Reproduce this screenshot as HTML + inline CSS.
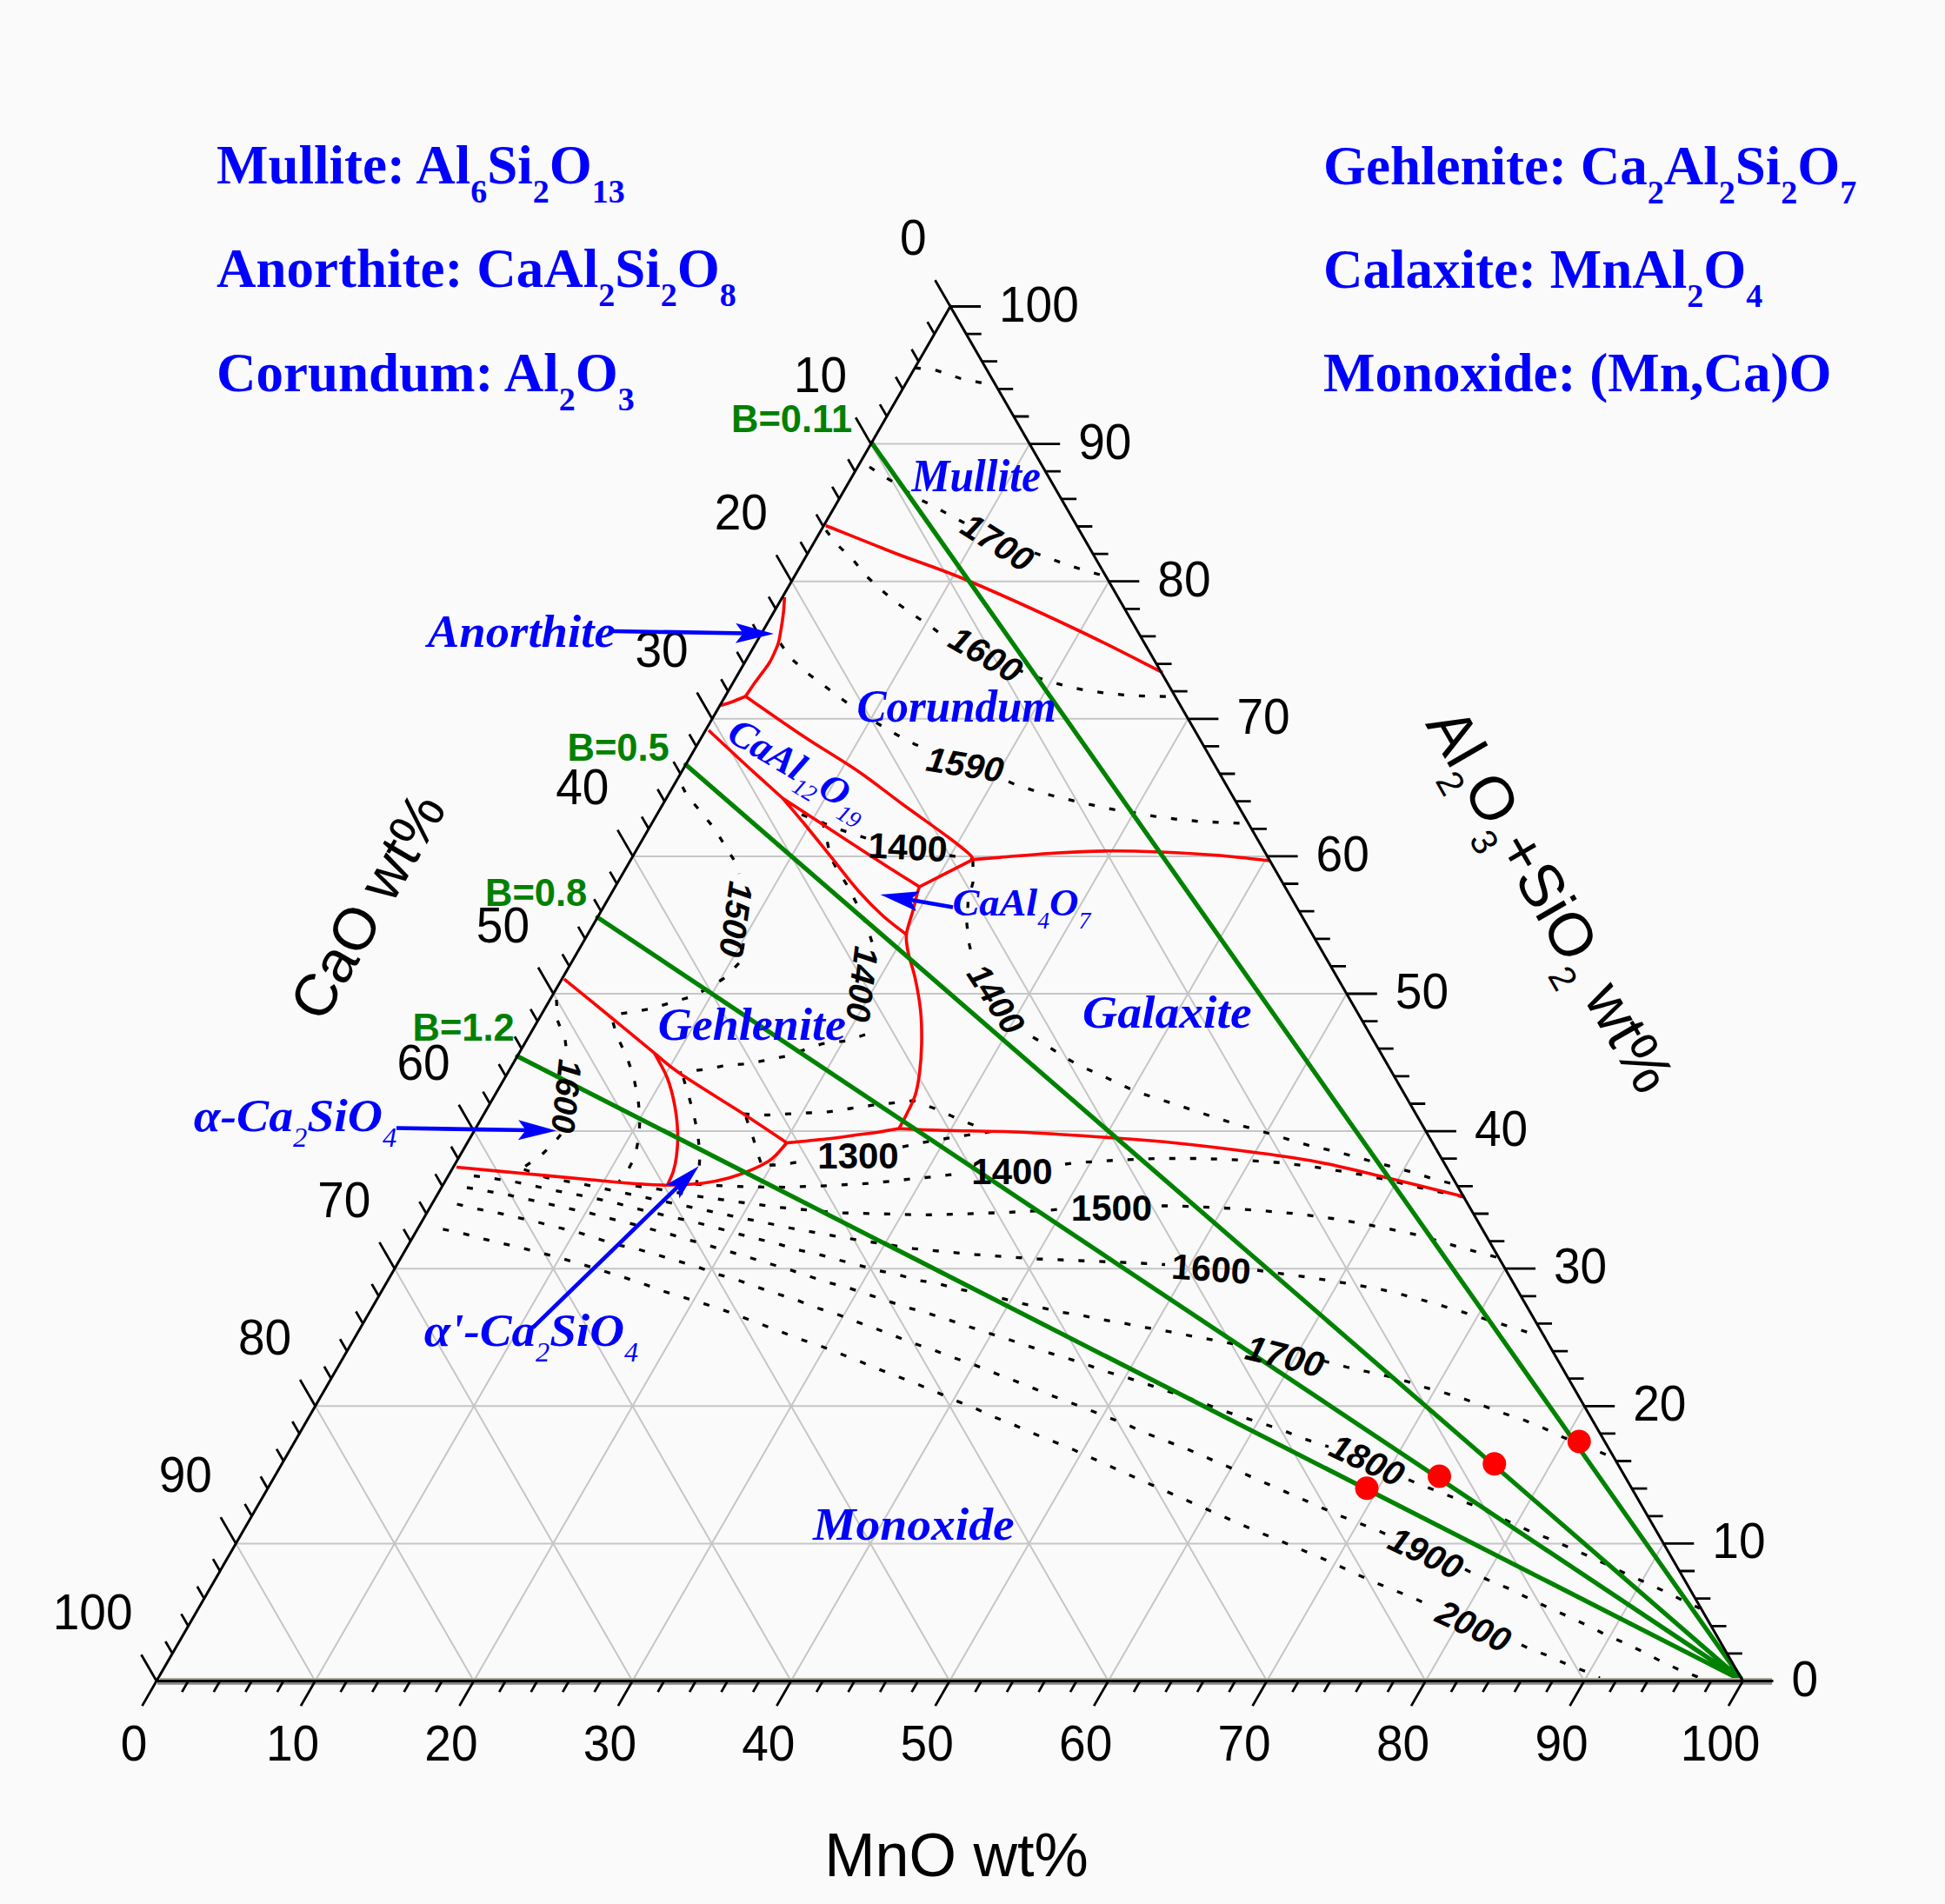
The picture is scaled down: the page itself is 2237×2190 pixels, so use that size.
<!DOCTYPE html>
<html><head><meta charset="utf-8"><title>CaO-MnO-Al2O3+SiO2 phase diagram</title>
<style>html,body{margin:0;padding:0;background:#fafafa;}svg{display:block}</style></head>
<body><svg width="2237" height="2190" viewBox="0 0 2237 2190">
<rect width="2237" height="2190" fill="#fafafa"/>
<path d="M271.3 1775.4H1913.3M362.5 1933.5L1184.2 510.6M1822 1933.5L1001.7 510.6M362.6 1617.3H1822.2M544.9 1933.5L1275.3 668.7M1639.6 1933.5L910.4 668.7M453.9 1459.2H1731M727.4 1933.5L1366.4 826.8M1457.1 1933.5L819.1 826.8M545.2 1301.1H1639.9M909.8 1933.5L1457.6 984.9M1274.7 1933.5L727.8 984.9M636.5 1143H1548.8M1092.2 1933.5L1548.8 1143M1092.2 1933.5L636.5 1143M727.8 984.9H1457.6M1274.7 1933.5L1639.9 1301.1M909.8 1933.5L545.2 1301.1M819.1 826.8H1366.5M1457.1 1933.5L1731 1459.2M727.4 1933.5L453.9 1459.2M910.4 668.7H1275.3M1639.6 1933.5L1822.2 1617.3M544.9 1933.5L362.6 1617.3M1001.7 510.6H1184.2M1822 1933.5L1913.3 1775.4M362.4 1933.5L271.3 1775.4" stroke="#c6c6c6" stroke-width="2" fill="none"/>
<path d="M1052.0 423.0 L1077.5 426.2 L1103.8 435.0 L1127.5 440.0 L1144.0 442.0M1000.0 537.0 L1010.9 544.5 L1031.9 557.1 L1050.8 570.8 L1074.0 582.4 L1095.0 593.9 L1112.0 603.0M1190.0 636.0 L1204.2 641.2 L1227.3 649.6 L1250.4 656.9 L1265.0 661.0M950.0 610.0 L962.5 626.2 L980.0 642.5 L995.0 661.2 L1012.5 677.5 L1030.0 692.5 L1051.2 707.5 L1071.2 721.2 L1090.0 735.0M1170.0 770.0 L1178.8 773.8 L1202.5 782.5 L1225.0 788.8 L1247.5 793.8 L1272.5 797.5 L1295.0 799.5 L1320.0 800.8 L1345.0 801.2M897.5 740.0 L910.0 757.5 L931.2 776.2 L951.2 791.2 L971.2 806.2 L990.0 819.0 L1010.0 832.5 L1031.2 845.0 L1052.5 856.2 L1062.0 860.0M1160.0 899.0 L1165.0 901.2 L1187.5 908.8 L1210.0 915.0 L1235.0 921.2 L1257.5 926.2 L1281.2 931.2 L1305.0 935.0 L1327.5 938.8 L1351.2 942.0 L1376.2 944.5 L1400.0 945.8 L1430.0 947.0M922.0 937.0 L942.5 945.0 L965.0 953.8 L987.5 961.2 L996.0 964.0M1092.0 984.0 L1105.0 986.2 L1119.0 988.6M785.0 905.0 L790.0 915.0 L806.2 933.8 L821.2 952.5 L833.8 972.5 L846.2 992.5 L850.0 1005.0M855.0 1085.0 L852.5 1105.0 L835.0 1123.8 L817.5 1135.0 L796.2 1146.2 L773.8 1152.5 L750.0 1160.0 L727.5 1163.8 L702.0 1168.0M946.0 945.0 L950.4 962.6 L955.0 986.0 L961.4 997.3 L974.0 1017.7 L985.9 1040.6 L996.0 1062.0 L1003.0 1084.0 L1005.0 1094.0M995.0 1190.0 L975.0 1197.0 L945.7 1200.5 L903.0 1215.0 L878.8 1220.0 L855.0 1223.8 L831.2 1226.2 L810.0 1230.0 L782.5 1233.8M1119.0 990.0 L1119.0 1015.0 L1113.5 1036.0 L1112.0 1063.0 L1115.0 1087.0 L1118.0 1100.0M1188.0 1193.0 L1200.0 1200.0 L1219.0 1212.5 L1240.0 1225.0 L1262.5 1235.0 L1284.0 1245.0 L1305.0 1255.0 L1327.5 1262.5 L1351.2 1270.0 L1373.8 1277.5 L1396.2 1285.0 L1420.0 1292.5 L1442.5 1298.8 L1464.0 1305.0 L1487.8 1312.5 L1510.2 1318.8 L1534.0 1323.8 L1556.5 1330.0 L1579.0 1336.2 L1602.8 1342.5 L1626.5 1348.8 L1649.0 1356.2 L1674.0 1362.5 L1682.0 1365.0M640.0 1150.0 L641.2 1173.8 L650.0 1196.2 L652.0 1212.0M645.0 1305.0 L638.8 1312.5 L622.5 1328.8 L602.5 1342.5M705.0 1176.0 L710.0 1192.5 L721.2 1216.2 L728.8 1238.8 L733.8 1263.8 L736.0 1285.0 L735.0 1307.5 L730.0 1331.2 L720.0 1350.0 L712.0 1359.0M786.0 1240.0 L791.2 1257.5 L797.5 1280.0 L802.5 1303.8 L805.0 1327.5 L803.8 1350.0 L801.0 1361.0M858.0 1285.0 L866.2 1308.8 L872.5 1330.0 L876.0 1340.0M855.0 1281.2 L882.5 1282.5 L907.5 1281.2 L930.0 1280.0 L952.5 1278.8 L978.0 1275.0 L1003.8 1271.2 L1025.0 1268.8 L1050.0 1266.0 L1075.0 1275.0 L1097.5 1285.0 L1118.8 1293.8 L1135.0 1302.0M885.0 1340.0 L896.8 1340.0 L920.5 1336.2 L932.0 1334.0M1038.0 1319.0 L1039.2 1318.8 L1063.0 1313.8 L1085.5 1310.0 L1109.2 1306.2 L1133.0 1302.5 L1140.0 1301.5M800.0 1362.0 L808.0 1362.8 L855.6 1365.0 L903.0 1365.6 L950.5 1363.8 L974.2 1362.5 L998.0 1361.2 L1023.0 1358.8 L1046.8 1356.2 L1070.5 1353.8 L1093.0 1351.2 L1105.0 1350.0M1225.0 1339.0 L1236.5 1337.5 L1284.0 1334.5 L1331.5 1332.5 L1379.0 1332.5 L1427.8 1334.2 L1475.2 1337.5 L1522.8 1343.8 L1570.2 1351.8 L1600.0 1358.0 L1639.0 1367.5 L1684.0 1377.0M731.0 1364.0 L755.0 1367.5 L800.0 1375.6 L848.8 1382.5 L896.8 1388.8 L965.5 1395.0 L1015.5 1396.2 L1063.0 1397.5 L1110.5 1396.2 L1158.0 1394.5 L1206.8 1392.0 L1218.0 1391.0M1336.0 1387.0 L1350.0 1387.0 L1397.8 1388.8 L1445.0 1392.0 L1492.8 1396.2 L1540.0 1402.5 L1586.5 1411.2 L1634.0 1421.2 L1680.0 1435.0 L1721.0 1446.0M602.5 1345.0 L628.0 1354.4 L675.6 1363.1 L698.8 1368.1 L745.6 1378.1 L793.1 1388.1 L839.4 1398.1 L885.6 1407.5 L909.2 1412.5 L979.2 1425.0 L1050.5 1436.2 L1121.8 1443.0 L1193.0 1448.0 L1241.5 1450.0 L1312.8 1453.0 L1340.0 1454.5M1446.0 1461.0 L1455.0 1462.5 L1502.8 1468.8 L1550.0 1476.2 L1597.8 1485.0 L1644.0 1497.5 L1689.0 1511.2 L1772.0 1537.0M545.0 1352.5 L568.0 1355.6 L592.0 1359.4 L615.6 1364.4 L638.0 1369.4 L662.0 1373.8 L686.0 1378.8 L708.8 1383.8 L731.2 1390.0 L755.0 1395.6 L778.8 1401.2 L801.2 1406.2 L825.0 1412.5 L847.5 1418.8 L871.2 1425.0 L894.4 1430.6 L916.8 1437.5 L940.5 1442.5 L963.0 1448.8 L986.8 1455.0 L1009.2 1461.2 L1033.0 1466.2 L1055.5 1472.5 L1078.0 1476.2 L1101.8 1482.5 L1125.5 1487.5 L1149.2 1492.5 L1173.0 1498.8 L1196.8 1503.8 L1217.8 1508.8 L1241.5 1512.5 L1265.2 1517.5 L1289.0 1521.2 L1312.8 1526.2 L1336.5 1530.0 L1361.5 1535.0 L1385.2 1539.5 L1409.0 1543.8 L1425.0 1547.0M1522.0 1565.0 L1525.2 1566.2 L1549.0 1572.5 L1571.5 1577.5 L1594.0 1582.5 L1617.8 1588.8 L1640.2 1596.2 L1662.8 1602.5 L1686.5 1610.0 L1707.5 1617.5 L1731.2 1626.2 L1753.8 1633.8 L1775.0 1642.5 L1796.2 1652.5 L1852.0 1675.0M537.0 1366.0 L560.0 1370.0 L584.0 1374.4 L607.0 1379.4 L629.0 1384.4 L654.0 1390.0 L677.5 1395.0 L700.0 1401.2 L723.8 1406.9 L746.2 1413.1 L770.0 1419.4 L792.5 1426.2 L815.0 1432.5 L838.1 1439.4 L861.2 1446.2 L883.8 1453.1 L906.8 1460.0 L929.2 1467.5 L951.8 1475.0 L975.5 1481.2 L998.0 1488.8 L1020.5 1496.2 L1043.0 1503.8 L1065.5 1510.0 L1089.2 1517.5 L1111.8 1525.0 L1134.2 1532.5 L1158.0 1540.0 L1180.5 1547.5 L1203.0 1555.0 L1224.0 1561.2 L1247.8 1568.8 L1271.5 1577.5 L1294.0 1583.8 L1316.5 1591.2 L1339.0 1598.8 L1361.5 1606.2 L1384.0 1614.0 L1406.5 1622.5 L1429.0 1630.0 L1452.8 1637.5 L1475.2 1645.0 L1496.5 1653.8 L1519.0 1661.2 L1528.0 1664.0M1620.0 1702.0 L1630.0 1706.2 L1652.5 1715.0 L1675.0 1723.8 L1697.5 1732.5 L1719.0 1742.5 L1740.0 1752.5 L1762.5 1762.5 L1785.0 1771.2 L1807.5 1781.2 L1830.0 1791.2 L1851.0 1801.0 L1872.5 1811.2 L1895.0 1821.2 L1916.2 1831.2 L1936.2 1841.2 L1955.0 1850.0M525.6 1385.0 L549.4 1390.6 L572.0 1395.0 L596.0 1400.6 L619.4 1406.0 L642.5 1412.0 L665.0 1417.5 L688.0 1425.0 L711.0 1432.0 L733.8 1436.9 L757.5 1443.8 L780.0 1450.6 L803.1 1457.5 L825.0 1465.6 L847.5 1471.9 L871.2 1480.6 L893.8 1488.1 L915.5 1495.0 L938.0 1503.8 L961.8 1511.2 L984.2 1520.0 L1005.5 1527.5 L1028.0 1536.2 L1050.5 1545.0 L1073.0 1552.5 L1095.5 1561.2 L1118.0 1568.8 L1139.2 1577.5 L1161.8 1586.2 L1184.2 1595.0 L1205.5 1603.8 L1229.0 1612.5 L1251.5 1621.2 L1274.0 1630.0 L1296.5 1638.8 L1319.0 1648.8 L1341.5 1657.5 L1364.0 1666.2 L1440.0 1699.0 L1516.2 1732.5 L1538.8 1742.5 L1561.2 1751.2 L1583.8 1760.0 L1595.0 1765.0M1685.0 1805.0 L1692.5 1808.8 L1715.0 1818.8 L1736.2 1827.5 L1758.8 1838.8 L1780.0 1848.8 L1802.5 1858.8 L1823.8 1868.8 L1846.2 1880.0 L1866.2 1888.8 L1887.5 1898.8 L1908.8 1910.0 L1930.0 1920.0 L1958.0 1931.0M509.4 1413.8 L533.0 1418.8 L555.6 1425.0 L579.4 1430.6 L602.0 1436.0 L625.6 1442.0 L648.0 1448.0 L672.0 1455.0 L694.4 1462.0 L716.2 1468.8 L738.8 1476.2 L762.5 1485.0 L785.0 1491.9 L807.5 1498.8 L830.0 1506.2 L852.5 1514.4 L875.0 1523.1 L896.9 1531.2 L919.2 1540.0 L941.8 1547.5 L964.2 1556.2 L986.8 1565.0 L1008.0 1573.8 L1030.5 1582.5 L1053.0 1591.2 L1074.2 1600.0 L1096.8 1610.0 L1119.2 1618.8 L1140.5 1628.8 L1163.0 1637.5 L1185.5 1647.5 L1206.8 1656.2 L1229.0 1665.0 L1300.0 1697.0 L1370.0 1728.0 L1440.0 1759.0 L1515.0 1790.0 L1537.5 1800.0 L1558.8 1810.0 L1581.2 1820.0 L1602.5 1828.8 L1625.0 1837.5 L1646.2 1847.5 L1650.0 1849.0M1750.0 1892.0 L1756.2 1895.0 L1778.8 1903.8 L1801.2 1913.8 L1823.8 1922.5 L1840.0 1930.0" stroke="#000" stroke-width="3.3" fill="none" stroke-dasharray="7 17" />
<path d="M949.7 604.5C963.1 609.8 1002.9 626.0 1030.0 636.5C1057.1 647.0 1077.5 652.8 1112.5 667.5C1147.5 682.2 1202.6 707.3 1240.0 725.0C1277.4 742.7 1320.8 765.4 1337.0 773.5M902.3 687.0C902.1 690.0 901.8 698.4 901.0 705.2C900.2 712.0 898.6 722.2 897.6 727.9C896.6 733.6 896.4 735.4 895.3 739.2C894.2 743.0 892.5 746.7 890.8 750.5C889.1 754.3 887.5 758.0 885.2 761.8C882.9 765.6 880.2 769.0 877.2 773.1C874.2 777.2 870.4 782.1 867.1 786.7C863.8 791.4 859.1 798.6 857.5 801.0M857.5 801.0C854.6 802.2 844.8 806.2 840.0 808.0C835.2 809.8 830.8 810.9 829.0 811.5M857.5 801.0C868.8 808.8 903.3 833.1 925.0 847.5C946.7 861.9 968.7 874.6 987.5 887.5C1006.3 900.4 1020.9 912.5 1038.0 925.0C1055.1 937.5 1077.2 952.9 1090.0 962.5C1102.8 972.1 1110.2 978.1 1115.0 982.5C1119.8 986.9 1118.3 987.6 1119.0 988.6M1119.0 988.6C1124.2 988.2 1134.4 987.5 1150.0 986.2C1165.6 985.0 1191.7 982.5 1212.5 981.2C1233.3 980.0 1254.6 979.0 1275.0 978.8C1295.4 978.5 1314.2 979.2 1335.0 980.0C1355.8 980.8 1379.2 982.1 1400.0 983.8C1420.8 985.4 1450.0 989.0 1460.0 990.0M1119.0 988.6 L1057.5 1020.0M815.0 840.0C822.2 846.7 843.8 867.0 858.0 880.0C872.2 893.0 893.0 911.7 900.0 918.0M900.0 918.0C906.2 922.1 919.8 930.9 937.5 942.5C955.2 954.1 986.2 974.6 1006.2 987.5C1026.2 1000.4 1049.0 1014.6 1057.5 1020.0M900.0 918.0C904.2 922.9 915.6 936.1 925.0 947.5C934.4 958.9 945.8 973.3 956.2 986.2C966.7 999.2 977.7 1013.9 987.5 1025.0C997.3 1036.1 1005.8 1044.7 1015.0 1053.0C1024.2 1061.3 1037.9 1071.3 1042.5 1075.0M1057.5 1020.0C1057.1 1021.2 1056.2 1022.9 1055.0 1027.5C1053.8 1032.1 1052.1 1039.6 1050.0 1047.5C1047.9 1055.4 1043.3 1066.7 1042.5 1075.0C1041.7 1083.3 1043.3 1089.2 1045.0 1097.5C1046.7 1105.8 1050.2 1114.2 1052.5 1125.0C1054.8 1135.8 1057.5 1150.0 1058.8 1162.5C1060.0 1175.0 1060.2 1187.9 1060.0 1200.0C1059.8 1212.1 1058.8 1225.0 1057.5 1235.0C1056.2 1245.0 1055.1 1252.0 1052.5 1260.0C1049.9 1268.0 1045.1 1276.7 1042.0 1283.0C1038.9 1289.3 1035.3 1295.5 1034.0 1298.0M1034.0 1298.0C1041.7 1298.3 1055.7 1299.2 1080.0 1300.0C1104.3 1300.8 1146.7 1301.0 1180.0 1302.5C1213.3 1304.0 1250.8 1306.7 1280.0 1308.8C1309.2 1310.8 1328.5 1312.3 1355.0 1315.0C1381.5 1317.7 1412.5 1321.5 1439.0 1325.0C1465.5 1328.5 1487.8 1331.2 1514.0 1336.2C1540.2 1341.2 1568.2 1348.3 1596.5 1355.0C1624.8 1361.7 1669.4 1372.9 1684.0 1376.5M1034.0 1298.0C1029.2 1298.8 1012.7 1301.8 1005.0 1303.0C997.3 1304.2 997.1 1303.8 988.0 1305.0C978.9 1306.2 964.3 1308.4 950.5 1310.0C936.7 1311.6 912.6 1313.8 905.0 1314.5M648.8 1126.2C657.7 1133.5 685.2 1155.8 702.5 1170.0C719.8 1184.2 739.2 1200.4 752.5 1211.2C765.8 1222.1 765.4 1223.3 782.5 1235.0C799.6 1246.7 834.6 1268.0 855.0 1281.2C875.4 1294.5 896.7 1309.0 905.0 1314.5M905.0 1314.5C902.8 1316.9 895.7 1325.4 892.0 1329.0C888.3 1332.6 887.8 1333.4 883.0 1336.2C878.2 1339.1 870.5 1343.1 863.0 1346.2C855.5 1349.4 847.2 1352.5 838.0 1355.0C828.8 1357.5 819.8 1359.6 808.0 1361.0C796.2 1362.4 774.2 1362.9 767.5 1363.3M525.0 1342.5C538.3 1343.8 579.2 1347.6 605.0 1350.0C630.8 1352.4 659.2 1355.1 680.0 1357.0C700.8 1358.9 715.4 1360.5 730.0 1361.5C744.6 1362.5 761.2 1363.0 767.5 1363.3M752.5 1211.2C755.0 1216.0 763.5 1229.8 767.5 1240.0C771.5 1250.2 774.2 1261.7 776.2 1272.5C778.2 1283.3 779.2 1295.4 779.5 1305.0C779.8 1314.6 778.8 1323.0 778.0 1330.0C777.2 1337.0 776.2 1341.5 774.5 1347.0C772.8 1352.5 768.7 1360.6 767.5 1363.3" stroke="#ff0000" stroke-width="3.6" fill="none" stroke-linejoin="round"/>
<path d="M1002.5 509.2L2004.5 1933.5M788.7 879.5L2004.5 1933.5M687.2 1055.2L2004.5 1933.5M595 1214.9L2004.5 1933.5" stroke="#008200" stroke-width="5.2" fill="none" stroke-linecap="round"/>
<path d="M184 1931H2038" stroke="#aaa79d" stroke-width="2"/><path d="M181 1936.4H2038" stroke="#868686" stroke-width="2.8"/>
<path d="M1093 352.5L180 1933.5L2004.5 1933.5Z" stroke="#000" stroke-width="3" fill="none" stroke-linejoin="miter"/>
<path d="M1093 352.5l-17.5 -30.3M1093 352.5h35M180 1933.5l-16.5 28.6M1074.7 384.1l-8 -13.9M1111.2 384.1h17.5M216.5 1933.5l-7.2 12.6M1056.5 415.7l-8 -13.9M1129.5 415.7h17.5M253 1933.5l-7.2 12.6M1038.2 447.4l-8 -13.9M1147.7 447.4h17.5M289.5 1933.5l-7.2 12.6M1020 479l-8 -13.9M1165.9 479h17.5M326 1933.5l-7.2 12.6M1001.7 510.6l-17.5 -30.3M1184.2 510.6h35M362.5 1933.5l-16.5 28.6M983.4 542.2l-8 -13.9M1202.4 542.2h17.5M398.9 1933.5l-7.2 12.6M965.2 573.8l-8 -13.9M1220.6 573.8h17.5M435.4 1933.5l-7.2 12.6M946.9 605.5l-8 -13.9M1238.8 605.5h17.5M471.9 1933.5l-7.2 12.6M928.7 637.1l-8 -13.9M1257.1 637.1h17.5M508.4 1933.5l-7.2 12.6M910.4 668.7l-17.5 -30.3M1275.3 668.7h35M544.9 1933.5l-16.5 28.6M892.1 700.3l-8 -13.9M1293.5 700.3h17.5M581.4 1933.5l-7.2 12.6M873.9 731.9l-8 -13.9M1311.8 731.9h17.5M617.9 1933.5l-7.2 12.6M855.6 763.6l-8 -13.9M1330 763.6h17.5M654.4 1933.5l-7.2 12.6M837.4 795.2l-8 -13.9M1348.2 795.2h17.5M690.9 1933.5l-7.2 12.6M819.1 826.8l-17.5 -30.3M1366.4 826.8h35M727.4 1933.5l-16.5 28.6M800.8 858.4l-8 -13.9M1384.7 858.4h17.5M763.8 1933.5l-7.2 12.6M782.6 890l-8 -13.9M1402.9 890h17.5M800.3 1933.5l-7.2 12.6M764.3 921.7l-8 -13.9M1421.1 921.7h17.5M836.8 1933.5l-7.2 12.6M746.1 953.3l-8 -13.9M1439.4 953.3h17.5M873.3 1933.5l-7.2 12.6M727.8 984.9l-17.5 -30.3M1457.6 984.9h35M909.8 1933.5l-16.5 28.6M709.5 1016.5l-8 -13.9M1475.8 1016.5h17.5M946.3 1933.5l-7.2 12.6M691.3 1048.1l-8 -13.9M1494.1 1048.1h17.5M982.8 1933.5l-7.2 12.6M673 1079.8l-8 -13.9M1512.3 1079.8h17.5M1019.3 1933.5l-7.2 12.6M654.8 1111.4l-8 -13.9M1530.5 1111.4h17.5M1055.8 1933.5l-7.2 12.6M636.5 1143l-17.5 -30.3M1548.8 1143h35M1092.2 1933.5l-16.5 28.6M618.2 1174.6l-8 -13.9M1567 1174.6h17.5M1128.7 1933.5l-7.2 12.6M600 1206.2l-8 -13.9M1585.2 1206.2h17.5M1165.2 1933.5l-7.2 12.6M581.7 1237.9l-8 -13.9M1603.4 1237.9h17.5M1201.7 1933.5l-7.2 12.6M563.5 1269.5l-8 -13.9M1621.7 1269.5h17.5M1238.2 1933.5l-7.2 12.6M545.2 1301.1l-17.5 -30.3M1639.9 1301.1h35M1274.7 1933.5l-16.5 28.6M526.9 1332.7l-8 -13.9M1658.1 1332.7h17.5M1311.2 1933.5l-7.2 12.6M508.7 1364.3l-8 -13.9M1676.4 1364.3h17.5M1347.7 1933.5l-7.2 12.6M490.4 1396l-8 -13.9M1694.6 1396h17.5M1384.2 1933.5l-7.2 12.6M472.2 1427.6l-8 -13.9M1712.8 1427.6h17.5M1420.7 1933.5l-7.2 12.6M453.9 1459.2l-17.5 -30.3M1731 1459.2h35M1457.1 1933.5l-16.5 28.6M435.6 1490.8l-8 -13.9M1749.3 1490.8h17.5M1493.6 1933.5l-7.2 12.6M417.4 1522.4l-8 -13.9M1767.5 1522.4h17.5M1530.1 1933.5l-7.2 12.6M399.1 1554.1l-8 -13.9M1785.7 1554.1h17.5M1566.6 1933.5l-7.2 12.6M380.9 1585.7l-8 -13.9M1804 1585.7h17.5M1603.1 1933.5l-7.2 12.6M362.6 1617.3l-17.5 -30.3M1822.2 1617.3h35M1639.6 1933.5l-16.5 28.6M344.3 1648.9l-8 -13.9M1840.4 1648.9h17.5M1676.1 1933.5l-7.2 12.6M326.1 1680.5l-8 -13.9M1858.7 1680.5h17.5M1712.6 1933.5l-7.2 12.6M307.8 1712.2l-8 -13.9M1876.9 1712.2h17.5M1749.1 1933.5l-7.2 12.6M289.6 1743.8l-8 -13.9M1895.1 1743.8h17.5M1785.6 1933.5l-7.2 12.6M271.3 1775.4l-17.5 -30.3M1913.3 1775.4h35M1822 1933.5l-16.5 28.6M253 1807l-8 -13.9M1931.6 1807h17.5M1858.5 1933.5l-7.2 12.6M234.8 1838.6l-8 -13.9M1949.8 1838.6h17.5M1895 1933.5l-7.2 12.6M216.5 1870.3l-8 -13.9M1968 1870.3h17.5M1931.5 1933.5l-7.2 12.6M198.3 1901.9l-8 -13.9M1986.3 1901.9h17.5M1968 1933.5l-7.2 12.6M180 1933.5l-17.5 -30.3M2004.5 1933.5h35M2004.5 1933.5l-16.5 28.6" stroke="#000" stroke-width="2.8" fill="none"/>
<g font-family="Liberation Sans, Arial, sans-serif" font-size="55" fill="#000"><text transform="translate(1065.5,293) scale(1,1.05)" text-anchor="end">0</text><text transform="translate(1149,369.5) scale(1,1.05)">100</text><text transform="translate(154,2024.8) scale(1,1.05)" text-anchor="middle">0</text><text transform="translate(974.2,451.1) scale(1,1.05)" text-anchor="end">10</text><text transform="translate(1240.2,527.6) scale(1,1.05)">90</text><text transform="translate(336.5,2024.8) scale(1,1.05)" text-anchor="middle">10</text><text transform="translate(882.9,609.2) scale(1,1.05)" text-anchor="end">20</text><text transform="translate(1331.3,685.7) scale(1,1.05)">80</text><text transform="translate(518.9,2024.8) scale(1,1.05)" text-anchor="middle">20</text><text transform="translate(791.6,767.3) scale(1,1.05)" text-anchor="end">30</text><text transform="translate(1422.4,843.8) scale(1,1.05)">70</text><text transform="translate(701.4,2024.8) scale(1,1.05)" text-anchor="middle">30</text><text transform="translate(700.3,925.4) scale(1,1.05)" text-anchor="end">40</text><text transform="translate(1513.6,1001.9) scale(1,1.05)">60</text><text transform="translate(883.8,2024.8) scale(1,1.05)" text-anchor="middle">40</text><text transform="translate(609,1083.5) scale(1,1.05)" text-anchor="end">50</text><text transform="translate(1604.8,1160) scale(1,1.05)">50</text><text transform="translate(1066.2,2024.8) scale(1,1.05)" text-anchor="middle">50</text><text transform="translate(517.7,1241.6) scale(1,1.05)" text-anchor="end">60</text><text transform="translate(1695.9,1318.1) scale(1,1.05)">40</text><text transform="translate(1248.7,2024.8) scale(1,1.05)" text-anchor="middle">60</text><text transform="translate(426.4,1399.7) scale(1,1.05)" text-anchor="end">70</text><text transform="translate(1787,1476.2) scale(1,1.05)">30</text><text transform="translate(1431.1,2024.8) scale(1,1.05)" text-anchor="middle">70</text><text transform="translate(335.1,1557.8) scale(1,1.05)" text-anchor="end">80</text><text transform="translate(1878.2,1634.3) scale(1,1.05)">20</text><text transform="translate(1613.6,2024.8) scale(1,1.05)" text-anchor="middle">80</text><text transform="translate(243.8,1715.9) scale(1,1.05)" text-anchor="end">90</text><text transform="translate(1969.3,1792.4) scale(1,1.05)">10</text><text transform="translate(1796,2024.8) scale(1,1.05)" text-anchor="middle">90</text><text transform="translate(152.5,1874) scale(1,1.05)" text-anchor="end">100</text><text transform="translate(2060.5,1950.5) scale(1,1.05)">0</text><text transform="translate(1978.5,2024.8) scale(1,1.05)" text-anchor="middle">100</text></g>
<g font-family="Liberation Serif, Times New Roman, serif" font-weight="bold" font-size="63" fill="#0000ff">
<text x="249" y="210.7">Mullite: Al<tspan font-size="38" dy="22">6</tspan><tspan dy="-22">​</tspan>Si<tspan font-size="38" dy="22">2</tspan><tspan dy="-22">​</tspan>O<tspan font-size="38" dy="22">13</tspan><tspan dy="-22">​</tspan></text>
<text x="249" y="329.7">Anorthite: CaAl<tspan font-size="38" dy="22">2</tspan><tspan dy="-22">​</tspan>Si<tspan font-size="38" dy="22">2</tspan><tspan dy="-22">​</tspan>O<tspan font-size="38" dy="22">8</tspan><tspan dy="-22">​</tspan></text>
<text x="249" y="449.8">Corundum: Al<tspan font-size="38" dy="22">2</tspan><tspan dy="-22">​</tspan>O<tspan font-size="38" dy="22">3</tspan><tspan dy="-22">​</tspan></text>
<text x="1522" y="211.5">Gehlenite: Ca<tspan font-size="38" dy="22">2</tspan><tspan dy="-22">​</tspan>Al<tspan font-size="38" dy="22">2</tspan><tspan dy="-22">​</tspan>Si<tspan font-size="38" dy="22">2</tspan><tspan dy="-22">​</tspan>O<tspan font-size="38" dy="22">7</tspan><tspan dy="-22">​</tspan></text>
<text x="1522" y="330.5">Calaxite: MnAl<tspan font-size="38" dy="22">2</tspan><tspan dy="-22">​</tspan>O<tspan font-size="38" dy="22">4</tspan><tspan dy="-22">​</tspan></text>
<text x="1522" y="449.5">Monoxide: (Mn,Ca)O</text>
</g>
<g font-family="Liberation Sans, Arial, sans-serif" font-size="70" fill="#000">
<text x="1100" y="2158" text-anchor="middle">MnO wt%</text>
<text transform="translate(443,1054) rotate(-60)" text-anchor="middle" font-size="68">CaO wt%</text>
<text transform="translate(1762.7,1047.5) rotate(60)" text-anchor="middle">Al<tspan font-size="42" dy="23">2</tspan><tspan dy="-23">O</tspan><tspan font-size="42" dy="23">3</tspan><tspan dy="-23">+SiO</tspan><tspan font-size="42" dy="23">2</tspan><tspan dy="-23"> wt%</tspan></text>
</g>
<g font-family="Liberation Sans, Arial, sans-serif" font-weight="bold" font-size="43.5" fill="#008000">
<text x="841" y="496.5">B=0.11</text>
<text x="652.5" y="874.5">B=0.5</text>
<text x="558" y="1042">B=0.8</text>
<text x="474.5" y="1197">B=1.2</text>
</g>
<g fill="#ff0000"><circle cx="1816.25" cy="1658" r="13.5"/><circle cx="1718.75" cy="1683.75" r="13.5"/><circle cx="1655.5" cy="1698" r="13.5"/><circle cx="1572" cy="1711.75" r="13.5"/></g>
<g font-family="Liberation Sans, Arial, sans-serif" font-weight="bold" fill="#000" text-anchor="middle">
<text transform="translate(1147.5,623.5) rotate(32)" y="14.3" font-size="40" font-style="italic">1700</text>
<text transform="translate(1134,752.5) rotate(30)" y="14.3" font-size="40" font-style="italic">1600</text>
<text transform="translate(1110,879) rotate(9)" y="14.3" font-size="40" font-style="italic">1590</text>
<text transform="translate(1044,974) rotate(3)" y="14.7" font-size="41">1400</text>
<text transform="translate(847,1057.5) rotate(98)" y="14.0" font-size="39" font-style="italic">1500</text>
<text transform="translate(992,1132) rotate(97)" y="14.0" font-size="39" font-style="italic">1400</text>
<text transform="translate(1146,1149) rotate(57)" y="14.0" font-size="39" font-style="italic">1400</text>
<text transform="translate(652,1261) rotate(96)" y="13.6" font-size="38" font-style="italic">1600</text>
<text transform="translate(987,1329) rotate(0)" y="15.0" font-size="42">1300</text>
<text transform="translate(1164,1347) rotate(0)" y="15.0" font-size="42">1400</text>
<text transform="translate(1278.5,1388.5) rotate(0)" y="15.0" font-size="42">1500</text>
<text transform="translate(1393,1459) rotate(4)" y="14.7" font-size="41">1600</text>
<text transform="translate(1478,1559.5) rotate(14)" y="14.7" font-size="41" font-style="italic">1700</text>
<text transform="translate(1572.5,1679) rotate(25)" y="14.3" font-size="40" font-style="italic">1800</text>
<text transform="translate(1640,1786) rotate(25)" y="14.3" font-size="40" font-style="italic">1900</text>
<text transform="translate(1695,1870) rotate(25)" y="14.3" font-size="40" font-style="italic">2000</text>
</g>
<g font-family="Liberation Serif, Times New Roman, serif" font-weight="bold" font-style="italic" font-size="53" fill="#0000ff">
<text transform="translate(1048.4,564.5) scale(0.9355,1)">Mullite</text>
<text transform="translate(985.6,829.5) scale(0.9615,1)">Corundum</text>
<text transform="translate(1245.0,1182) scale(1.0495,1)">Galaxite</text>
<text transform="translate(756.7,1195.5) scale(1.0206,1)">Gehlenite</text>
<text transform="translate(935.0,1771) scale(1.0498,1)">Monoxide</text>
<text transform="translate(491.8,743.5) scale(1.0327,1)">Anorthite</text>
<text transform="translate(222.7,1301.25) scale(1.0511,1)">α-Ca<tspan font-size="31" font-weight="normal" dy="18">2</tspan><tspan dy="-18">SiO</tspan><tspan font-size="31" font-weight="normal" dy="18">4</tspan></text>
<text transform="translate(487.7,1547.5) scale(1.0394,1)">α'-Ca<tspan font-size="31" font-weight="normal" dy="18">2</tspan><tspan dy="-18">SiO</tspan><tspan font-size="31" font-weight="normal" dy="18">4</tspan></text>
</g>
<text transform="translate(1095.5,1053.3) scale(1.028,1)" font-family="Liberation Serif, Times New Roman, serif" font-style="italic" font-weight="bold" font-size="45" fill="#0000ff">CaAl<tspan font-size="27" font-weight="normal" dy="15">4</tspan><tspan dy="-15">O</tspan><tspan font-size="27" font-weight="normal" dy="15">7</tspan></text>
<text transform="translate(834,850) rotate(31)" font-family="Liberation Serif, Times New Roman, serif" font-style="italic" font-weight="bold" font-size="45" fill="#0000ff">CaAl<tspan font-size="27" font-weight="normal" dy="12">12</tspan><tspan dy="-12">O</tspan><tspan font-size="27" font-weight="normal" dy="12">19</tspan></text>
<path d="M705.0 726.0L859.2 728.5" stroke="#0000ff" stroke-width="4.6" fill="none"/><path d="M890.0 729.0L845.8 739.8L854.8 728.4L846.2 716.8Z" fill="#0000ff"/>
<path d="M1096.0 1043.5L1042.8 1034.3" stroke="#0000ff" stroke-width="4.6" fill="none"/><path d="M1012.5 1029.0L1057.8 1025.2L1047.2 1035.0L1053.9 1047.9Z" fill="#0000ff"/>
<path d="M456.0 1297.5L609.2 1300.0" stroke="#0000ff" stroke-width="4.6" fill="none"/><path d="M640.0 1300.5L595.8 1311.3L604.8 1299.9L596.2 1288.3Z" fill="#0000ff"/>
<path d="M613.0 1527.0L782.7 1361.8" stroke="#0000ff" stroke-width="4.6" fill="none"/><path d="M803.8 1341.2L781.3 1378.4L779.7 1364.7L766.0 1362.7Z" fill="#0000ff"/>
</svg></body></html>
